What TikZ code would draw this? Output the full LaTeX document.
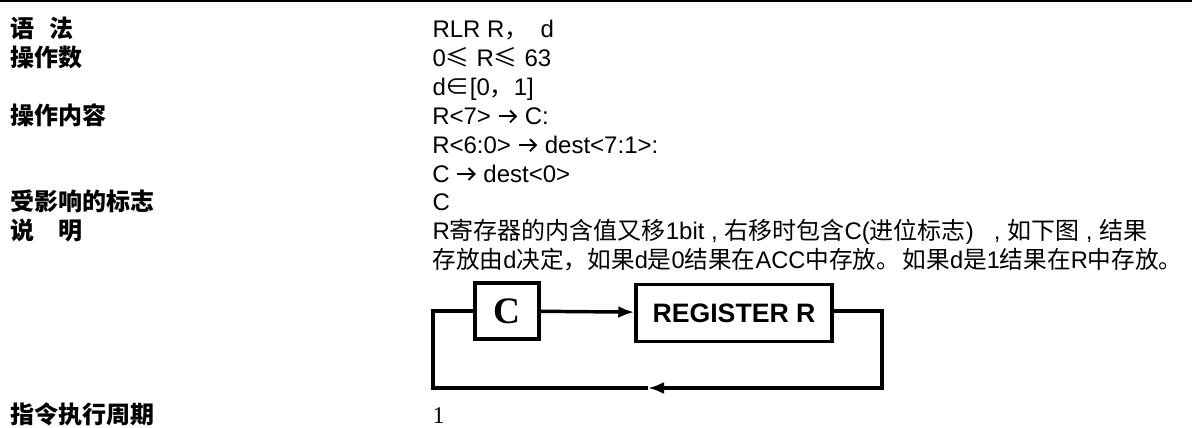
\documentclass[tikz,border=0pt]{standalone}
\usepackage{fontspec}
\setmainfont{Liberation Sans}
\newfontfamily\timesfont{Liberation Serif}
\newfontfamily\cjk{Noto Sans CJK SC}
\usetikzlibrary{arrows.meta}

\newcommand{\zh}[1]{{\cjk #1}}
\newcommand{\rarrow}{\tikz[baseline=-6pt]\draw[line width=1.4pt,-{Straight Barb[length=4.5pt,width=9pt]}] (0pt,0pt) -- (14pt,0pt);}

\tikzset{every picture/.style={line width=0.75pt}}
\tikzset{
  rowtext/.style={anchor=base west, inner sep=0pt, font=\fontsize{18}{21}\selectfont},
  headtext/.style={rowtext, font=\fontsize{18}{21}\selectfont\cjk\bfseries},
  regbox/.style={draw, line width=2.6pt, inner sep=0pt},
  wire/.style={line width=2.6pt},
  tip/.style={-{Latex[length=12pt,width=9pt]}}
}

\begin{document}
\begin{tikzpicture}[x=0.75pt,y=0.75pt,yscale=-1,xscale=1]
	\useasboundingbox (0,0) rectangle (1192,428);

	%Straight Lines
	\draw [line width=1.1pt]    (0,1) -- (1192,1) ;

	% Text Node
	\node [headtext] (syntax) at (10,38) {语\hspace{11pt}法};
	% Text Node
	\node [headtext] (operand) at (10,66.8) {操作数};
	% Text Node
	\node [headtext] (operation) at (10,124.4) {操作内容};
	% Text Node
	\node [headtext] (flags) at (10,210.8) {受影响的标志};
	% Text Node
	\node [headtext] (remark) at (10,239.6) {说\hspace{18pt}明};
	% Text Node
	\node [headtext] (cycles) at (10,423) {指令执行周期};

	% Text Node
	\node [rowtext] (rlr) at (432,38) {RLR R\zh{，}\hspace{9pt}d};
	% Text Node
	\node [rowtext] (range) at (432,66.8) {0\zh{≤} R\zh{≤} 63};
	% Text Node
	\node [rowtext] (dset) at (432,95.6) {d\zh{∈}[0\zh{，}1]};
	% Text Node
	\node [rowtext] (opa) at (432,124.4) {R<7> \rarrow{} C:};
	% Text Node
	\node [rowtext] (opb) at (432,153.2) {R<6:0> \rarrow{} dest<7:1>:};
	% Text Node
	\node [rowtext] (opc) at (432,182) {C \rarrow{} dest<0>};
	% Text Node
	\node [rowtext] (flagc) at (432,210.8) {C};
	% Text Node
	\node [rowtext] (desca) at (432,239.6) {R\zh{寄存器的内含值又移}1bit\ ,\ \zh{右移时包含}C(\zh{进位标志})\ \ \ ,\ \zh{如下图}\ ,\ \zh{结果}};
	% Text Node
	\node [rowtext] (descb) at (432,268.4) {\scalebox{0.985}[1]{\zh{存放由}d\zh{决定，如果}d\zh{是}0\zh{结果在}ACC\zh{中存放。}\hspace{2pt}\zh{如果}d\zh{是}1\zh{结果在}R\zh{中存放。}}};
	% Text Node
	\node [rowtext, font=\fontsize{18}{21}\selectfont\timesfont] (one) at (432,423) {1};

	%Shape: Rectangle
	\node [regbox, minimum width=48pt, minimum height=42pt, font=\fontsize{28}{30}\selectfont\timesfont\bfseries] (cbox) at (507,311) {C};
	%Shape: Rectangle
	\node [regbox, minimum width=147pt, minimum height=43pt, font=\fontsize{20}{24}\selectfont\bfseries] (rbox) at (734,313) {REGISTER R};

	\coordinate (lt) at (433,311);
	\coordinate (lb) at (433,388);
	\coordinate (rt) at (882,311);
	\coordinate (rb) at (882,388);
	\coordinate (mid) at (648,388);

	%Straight Lines
	\draw [wire, tip]    (cbox) -- (rbox) ;
	%Straight Lines
	\draw [wire, tip]    (rbox.east |- rt) -- (rt) -- (rb) -- (mid) ;
	%Straight Lines
	\draw [wire]    (mid) -- (lb) -- (lt) -- (cbox.west) ;

\end{tikzpicture}
\end{document}
